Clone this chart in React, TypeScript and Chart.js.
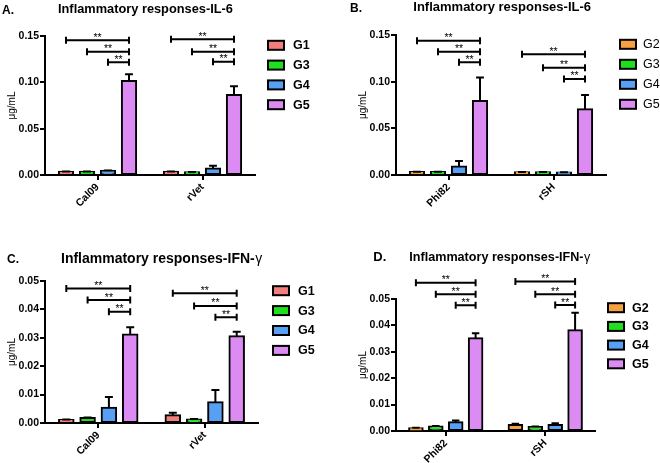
import React, { useEffect, useRef } from "react";
import { Chart, registerables } from "chart.js";
Chart.register(...registerables);

const FONT = '"Liberation Sans", Arial, Helvetica, sans-serif';

// ---------- shared ----------
const groupsAC = ["G1", "G3", "G4", "G5"];
const groupsBD = ["G2", "G3", "G4", "G5"];
const colorsAC = ["#F27E7E", "#1FE01F", "#57A0F4", "#DC8BF2"];
const colorsBD = ["#F5A042", "#1FE01F", "#57A0F4", "#DC8BF2"];
const catsAC = ["Cal09", "rVet"];
const catsBD = ["Phi82", "rSH"];
const ticksIL6 = [0, 0.05, 0.1, 0.15];
const ticksIFN = [0, 0.01, 0.02, 0.03, 0.04, 0.05];

// ---------- Panel A: IL-6 (Cal09, rVet) ----------
const aG1 = [0.0035, 0.0035];
const aG3 = [0.0035, 0.003];
const aG4 = [0.0045, 0.007];
const aG5 = [0.1015, 0.0864];
const aErrG1 = [0.0003, 0.0003];
const aErrG3 = [0.0002, 0.0002];
const aErrG4 = [0.0004, 0.003];
const aErrG5 = [0.0072, 0.0094];
const aBracketCal09 = [0.1454, 0.1331, 0.1216];
const aBracketRVet = [0.1464, 0.1331, 0.1223];

// ---------- Panel B: IL-6 (Phi82, rSH) ----------
const bG2 = [0.0033, 0.003];
const bG3 = [0.0033, 0.003];
const bG4 = [0.009, 0.0026];
const bG5 = [0.0794, 0.0705];
const bErrG2 = [0.0003, 0.0003];
const bErrG3 = [0.0002, 0.0002];
const bErrG4 = [0.006, 0.0003];
const bErrG5 = [0.025, 0.0153];
const bBracketPhi82 = [0.1439, 0.1321, 0.1207];
const bBracketRSH = [0.1293, 0.115, 0.1029];

// ---------- Panel C: IFN-γ (Cal09, rVet) ----------
const cG1 = [0.00105, 0.00275];
const cG3 = [0.00175, 0.00125];
const cG4 = [0.00535, 0.00735];
const cG5 = [0.03115, 0.03055];
const cErrG1 = [0.0002, 0.0009];
const cErrG3 = [0.0002, 0.0002];
const cErrG4 = [0.0038, 0.0043];
const cErrG5 = [0.0026, 0.0016];
const cBracketCal09 = [0.0474, 0.0433, 0.0392];
const cBracketRVet = [0.0457, 0.0412, 0.0372];

// ---------- Panel D: IFN-γ (Phi82, rSH) ----------
const dG2 = [0.001, 0.0023];
const dG3 = [0.0017, 0.0015];
const dG4 = [0.0033, 0.0023];
const dG5 = [0.0351, 0.0382];
const dErrG2 = [0.0002, 0.0004];
const dErrG3 = [0.0002, 0.0002];
const dErrG4 = [0.0007, 0.0006];
const dErrG5 = [0.0019, 0.0066];
const dBracketPhi82 = [0.0562, 0.0518, 0.0476];
const dBracketRSH = [0.0566, 0.0518, 0.0477];

type Panel = {
  key: string;
  letter: string;
  title: string;
  suffix: string;
  letterX: number;
  letterY: number;
  letterSize: number;
  titleX: number;
  titleY: number;
  titleSize: number;
  left: number;
  top: number;
  width: number;
  height: number;
  padTop: number;
  padRight: number;
  yWidth: number;
  xHeight: number;
  yLabelPad: number;
  cats: string[];
  groups: string[];
  colors: string[];
  means: number[][];
  errs: number[][];
  brackets: number[][];
  ticks: number[];
  legend: { dx: number; dy: number; gap: number; textDx: number; bold: boolean };
};

const panels: Panel[] = [
  {
    key: "A", letter: "A.", title: "Inflammatory responses-IL-6", suffix: "",
    letterX: 2, letterY: 14, letterSize: 12, titleX: 58, titleY: 13.3, titleSize: 12.8,
    left: 0, top: 0, width: 330, height: 225,
    padTop: 36, padRight: 75, yWidth: 45, xHeight: 50, yLabelPad: 6,
    cats: catsAC, groups: groupsAC, colors: colorsAC,
    means: [aG1, aG3, aG4, aG5], errs: [aErrG1, aErrG3, aErrG4, aErrG5],
    brackets: [aBracketCal09, aBracketRVet], ticks: ticksIL6,
    legend: { dx: 13, dy: 9.3, gap: 19.8, textDx: 25, bold: true },
  },
  {
    key: "B", letter: "B.", title: "Inflammatory responses-IL-6", suffix: "",
    letterX: 20, letterY: 11.7, letterSize: 12, titleX: 83.3, titleY: 11.2, titleSize: 13,
    left: 330, top: 0, width: 330, height: 225,
    padTop: 35, padRight: 54, yWidth: 66, xHeight: 50, yLabelPad: 27,
    cats: catsBD, groups: groupsBD, colors: colorsBD,
    means: [bG2, bG3, bG4, bG5], errs: [bErrG2, bErrG3, bErrG4, bErrG5],
    brackets: [bBracketPhi82, bBracketRSH], ticks: ticksIL6,
    legend: { dx: 14, dy: 9.3, gap: 20, textDx: 23, bold: false },
  },
  {
    key: "C", letter: "C.", title: "Inflammatory responses-IFN-", suffix: "\u03b3",
    letterX: 7, letterY: 37.7, letterSize: 12, titleX: 61, titleY: 38.3, titleSize: 14,
    left: 0, top: 225, width: 330, height: 238,
    padTop: 56, padRight: 72, yWidth: 45, xHeight: 40, yLabelPad: 6,
    cats: catsAC, groups: groupsAC, colors: colorsAC,
    means: [cG1, cG3, cG4, cG5], errs: [cErrG1, cErrG3, cErrG4, cErrG5],
    brackets: [cBracketCal09, cBracketRVet], ticks: ticksIFN,
    legend: { dx: 15, dy: 9.7, gap: 19.9, textDx: 25, bold: true },
  },
  {
    key: "D", letter: "D.", title: "Inflammatory responses-IFN-", suffix: "\u03b3",
    letterX: 43.3, letterY: 36, letterSize: 13, titleX: 79.3, titleY: 36, titleSize: 12.6,
    left: 330, top: 225, width: 330, height: 238,
    padTop: 74, padRight: 65, yWidth: 66, xHeight: 32, yLabelPad: 27,
    cats: catsBD, groups: groupsBD, colors: colorsBD,
    means: [dG2, dG3, dG4, dG5], errs: [dErrG2, dErrG3, dErrG4, dErrG5],
    brackets: [dBracketPhi82, dBracketRSH], ticks: ticksIFN,
    legend: { dx: 13, dy: 8.7, gap: 18.7, textDx: 24, bold: true },
  },
];

function makeOverlay(p: Panel) {
  return {
    id: "overlay" + p.key,
    afterDatasetsDraw(chart: any) {
      const ctx = chart.ctx as CanvasRenderingContext2D;
      const y = chart.scales.y;
      ctx.save();
      ctx.strokeStyle = "#000";
      ctx.fillStyle = "#000";
      ctx.lineWidth = 2;
      // error bars (upper only)
      p.means.forEach((arr, i) => {
        const meta = chart.getDatasetMeta(i);
        arr.forEach((m, j) => {
          const el = meta.data[j];
          const x = el.x;
          const top = y.getPixelForValue(m);
          const et = y.getPixelForValue(m + p.errs[i][j]);
          const cw = el.width * 0.55;
          ctx.beginPath();
          ctx.moveTo(x, top);
          ctx.lineTo(x, et);
          ctx.moveTo(x - cw / 2, et);
          ctx.lineTo(x + cw / 2, et);
          ctx.stroke();
        });
      });
      // significance brackets: groups 0,1,2 -> group 3
      const last = chart.getDatasetMeta(p.means.length - 1);
      p.brackets.forEach((levels, j) => {
        levels.forEach((lv, k) => {
          const x1 = chart.getDatasetMeta(k).data[j].x;
          const x2 = last.data[j].x;
          const ly = y.getPixelForValue(lv);
          ctx.beginPath();
          ctx.moveTo(x1, ly);
          ctx.lineTo(x2, ly);
          ctx.moveTo(x1, ly - 3.5);
          ctx.lineTo(x1, ly + 3.5);
          ctx.moveTo(x2, ly - 3.5);
          ctx.lineTo(x2, ly + 3.5);
          ctx.stroke();
          ctx.font = `10.5px ${FONT}`;
          ctx.textAlign = "center";
          ctx.textBaseline = "alphabetic";
          ctx.fillText("**", (x1 + x2) / 2, ly + 0.5);
        });
      });
      ctx.restore();
    },
    afterDraw(chart: any) {
      const ctx = chart.ctx as CanvasRenderingContext2D;
      const area = chart.chartArea;
      ctx.save();
      ctx.fillStyle = "#000";
      ctx.textAlign = "left";
      ctx.textBaseline = "alphabetic";
      ctx.font = `bold ${p.letterSize}px ${FONT}`;
      ctx.fillText(p.letter, p.letterX, p.letterY);
      ctx.font = `bold ${p.titleSize}px ${FONT}`;
      ctx.fillText(p.title, p.titleX, p.titleY);
      if (p.suffix) {
        const w = ctx.measureText(p.title).width;
        ctx.font = `${p.titleSize}px ${FONT}`;
        ctx.fillText(p.suffix, p.titleX + w + 0.5, p.titleY);
      }
      // legend
      const L = p.legend;
      p.groups.forEach((g, i) => {
        const bx = area.right + L.dx;
        const cy = area.top + L.dy + i * L.gap;
        ctx.fillStyle = p.colors[i];
        ctx.fillRect(bx, cy - 4.5, 16, 9);
        ctx.strokeStyle = "#000";
        ctx.lineWidth = 2;
        ctx.strokeRect(bx, cy - 4.5, 16, 9);
        ctx.fillStyle = "#000";
        ctx.font = `${L.bold ? "bold " : ""}12.5px ${FONT}`;
        ctx.textBaseline = "middle";
        ctx.fillText(g, bx + L.textDx, cy + 0.5);
      });
      ctx.restore();
    },
  };
}

function PanelChart({ p }: { p: Panel }) {
  const ref = useRef<HTMLCanvasElement | null>(null);
  useEffect(() => {
    if (!ref.current) return;
    const chart = new Chart(ref.current, {
      type: "bar",
      data: {
        labels: p.cats,
        datasets: p.groups.map((g, i) => ({
          label: g,
          data: p.means[i],
          backgroundColor: p.colors[i],
          borderColor: "#000",
          borderWidth: 2,
          borderSkipped: false,
          inflateAmount: 1,
          categoryPercentage: 0.8,
          barPercentage: 0.68,
        })),
      },
      options: {
        animation: false,
        responsive: false,
        devicePixelRatio: 1,
        layout: { padding: { top: p.padTop, right: p.padRight, left: 0, bottom: 0 } },
        plugins: {
          legend: { display: false },
          tooltip: { enabled: false },
          title: { display: false },
        },
        scales: {
          x: {
            type: "category",
            grid: { drawOnChartArea: false, offset: false, color: "#000", lineWidth: 2, tickLength: 5 },
            border: { color: "#000", width: 2 },
            ticks: {
              color: "#000",
              font: { family: FONT, size: 10.5, weight: "bold" },
              minRotation: 45,
              maxRotation: 45,
              padding: 1,
            },
            afterFit: (s: any) => {
              s.height = p.xHeight;
            },
          },
          y: {
            min: 0,
            max: p.ticks[p.ticks.length - 1],
            afterBuildTicks: (s: any) => {
              s.ticks = p.ticks.map((v) => ({ value: v }));
            },
            grid: { drawOnChartArea: false, color: "#000", lineWidth: 2, tickLength: 5 },
            border: { color: "#000", width: 2 },
            ticks: {
              color: "#000",
              font: { family: FONT, size: 10.5, weight: "bold" },
              padding: 1,
              callback: (v: any) => Number(v).toFixed(2),
            },
            title: {
              display: true,
              text: "\u03bcg/mL",
              color: "#000",
              font: { family: FONT, size: 10 },
              padding: { top: p.yLabelPad, bottom: 0 },
            },
            afterFit: (s: any) => {
              s.width = p.yWidth;
            },
          },
        },
      } as any,
      plugins: [makeOverlay(p)],
    });
    return () => chart.destroy();
  }, [p]);
  return (
    <canvas
      ref={ref}
      width={p.width}
      height={p.height}
      style={{ position: "absolute", left: p.left, top: p.top, width: p.width, height: p.height, display: "block" }}
    />
  );
}

export default function App() {
  return (
    <div style={{ position: "absolute", left: 0, top: 0, width: 660, height: 463, background: "#fff", overflow: "hidden" }}>
      {panels.map((p) => (
        <PanelChart key={p.key} p={p} />
      ))}
    </div>
  );
}
